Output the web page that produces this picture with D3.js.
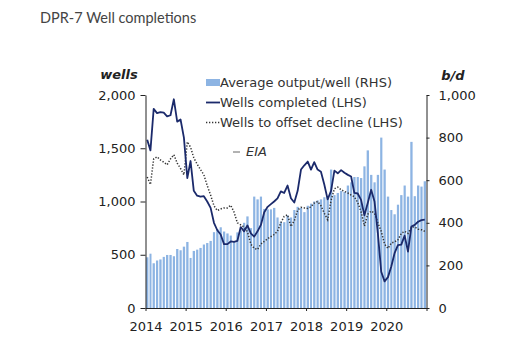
<!DOCTYPE html>
<html>
<head>
<meta charset="utf-8">
<script src="https://cdn.jsdelivr.net/npm/d3@7"></script>
<style>
  body { margin: 0; background: #fff; }
  text { font-family: "DejaVu Sans", sans-serif; fill: #222; }
</style>
</head>
<body>
<div id="chart"></div>
<script>
const width = 512;
const height = 354;

// monthly data, Jan 2014 .. Dec 2020
const startYear = 2014;
const yearTicks = [2014, 2015, 2016, 2017, 2018, 2019, 2020];

// average output per new well, b/d (RHS)
const outputPerWell = [
  238, 255, 210, 223, 228, 240, 249, 249, 243, 277, 271, 288,
  310, 235, 268, 274, 282, 298, 305, 315, 356, 370, 379, 359,
  350, 340, 310, 355, 365, 400, 430, 375, 523, 510, 523, 465,
  463, 463, 470, 425, 405, 403, 435, 425, 460, 475, 470, 450,
  480, 490, 500, 505, 510, 520, 525, 650, 530, 540, 550, 545,
  575, 590, 615, 615, 610, 665, 740, 625, 590, 625, 800, 650,
  523, 460, 440, 485, 530, 575, 523, 780, 525, 575, 570, 595
];

// wells completed (LHS)
const wellsCompleted = [
  1580, 1480, 1870, 1830, 1840, 1835, 1800, 1810, 1960, 1750, 1770, 1600,
  1220, 1380, 1100, 1055, 1045, 1050, 1000, 940, 800, 730, 690, 600,
  600, 625, 620, 630, 760, 720, 775, 700, 670, 720, 780, 900,
  950, 975, 1000, 1030, 1095, 1080, 1150, 1030, 990, 1100, 1300, 1340,
  1375, 1300, 1370, 1300, 1280, 1160, 1020, 1100, 1290, 1265, 1295, 1270,
  1250, 1235, 1080, 1075, 1015, 870, 985, 1110, 1000, 700, 340, 250,
  290, 390, 515, 590, 595, 680, 530, 765, 780, 810, 825, 830
];

// wells needed to offset legacy decline (LHS)
const wellsOffset = [
  1230, 1160, 1400, 1420, 1390, 1370, 1345, 1400, 1440, 1360, 1310, 1250,
  1560, 1510, 1410, 1350, 1300, 1250, 1150, 1060, 960, 915, 930, 940,
  940, 965, 900, 800, 780, 760, 716, 600, 560, 550, 600, 625,
  650, 670, 690, 720, 800, 860, 875, 765, 820, 920, 945, 940,
  935, 950, 985, 1000, 960, 890, 830, 1010, 1120, 1135, 1110, 1095,
  1080, 1060, 1045, 990, 905, 770, 880, 910, 890, 800, 720, 600,
  560, 610, 620, 640, 700, 720, 700, 760, 760, 740, 735, 720
];

const leftTicks = [0, 500, 1000, 1500, 2000];
const rightTicks = [0, 200, 400, 600, 800, 1000];

const months = outputPerWell.map((d, i) => new Date(startYear, i, 1));

const svg = d3.select("#chart").append("svg")
    .attr("width", width)
    .attr("height", height);

const plotLeft = 145.5, plotRight = 426.5, plotTop = 95, plotBottom = 308;

const x = d3.scaleTime()
    .domain([new Date(startYear, 0, 1), new Date(startYear + 7, 0, 1)])
    .range([plotLeft, plotRight]);
const yL = d3.scaleLinear().domain([0, 2000]).range([plotBottom, plotTop]);
const yR = d3.scaleLinear().domain([0, 1000]).range([plotBottom, plotTop]);

// title
svg.append("text")
    .attr("x", 40).attr("y", 23)
    .style("font-family", "Lato, sans-serif")
    .style("font-size", "14.5px")
    .style("fill", "#444")
    .text("DPR-7 Well completions");

// bars
svg.append("g").selectAll("rect")
    .data(outputPerWell)
    .join("rect")
    .attr("x", (d, i) => x(months[i]) + 0.6)
    .attr("width", (d, i) => x(new Date(startYear, i + 1, 1)) - x(months[i]) - 1.1)
    .attr("y", d => yR(d))
    .attr("height", d => yR(0) - yR(d))
    .attr("fill", "#8db4e3");

const mid = i => (x(months[i]) + x(new Date(startYear, i + 1, 1))) / 2;

svg.append("path")
    .datum(wellsOffset)
    .attr("fill", "none")
    .attr("stroke", "#333")
    .attr("stroke-width", 1.5)
    .attr("stroke-dasharray", "1.3,1.7")
    .attr("d", d3.line().x((d, i) => mid(i)).y(d => yL(d)));

svg.append("path")
    .datum(wellsCompleted)
    .attr("fill", "none")
    .attr("stroke", "#1b2a6b")
    .attr("stroke-width", 1.8)
    .attr("stroke-linejoin", "round")
    .attr("d", d3.line().x((d, i) => mid(i)).y(d => yL(d)));

// axes
const axisL = svg.append("g")
    .attr("transform", `translate(${plotLeft},0)`)
    .call(d3.axisLeft(yL).tickValues(leftTicks).tickFormat(d3.format(","))
        .tickSize(5).tickSizeOuter(0).tickPadding(5));

const axisR = svg.append("g")
    .attr("transform", `translate(${plotRight},0)`)
    .call(d3.axisRight(yR).tickValues(rightTicks).tickFormat(d3.format(","))
        .tickSize(3).tickSizeOuter(0).tickPadding(9));

const axisX = svg.append("g")
    .attr("transform", `translate(0,${plotBottom})`)
    .call(d3.axisBottom(x).tickValues(yearTicks.map(y => new Date(y, 0, 1)).concat([new Date(2021, 0, 1)]))
        .tickFormat(d => d.getFullYear() <= 2020 ? d.getFullYear() : "")
        .tickSize(3).tickSizeOuter(0).tickPadding(11));

[axisL, axisR, axisX].forEach(g => {
    g.selectAll("text").style("font-size", "13px").style("font-family", "DejaVu Sans, sans-serif").attr("fill", "#222");
    g.selectAll("line, path").attr("stroke", "#222");
});

// axis titles
svg.append("text")
    .attr("x", 119).attr("y", 79)
    .attr("text-anchor", "middle")
    .style("font-size", "13px").style("font-weight", "bold").style("font-style", "italic")
    .text("wells");
svg.append("text")
    .attr("x", 453).attr("y", 80)
    .attr("text-anchor", "middle")
    .style("font-size", "13px").style("font-weight", "bold").style("font-style", "italic")
    .text("b/d");

// legend
const legend = svg.append("g").style("font-size", "13px");
legend.append("rect").attr("x", 206).attr("y", 79).attr("width", 14).attr("height", 7).attr("fill", "#8db4e3");
legend.append("text").attr("x", 220).attr("y", 87).style("fill", "#333").text("Average output/well (RHS)");
legend.append("line").attr("x1", 206).attr("x2", 220).attr("y1", 102.5).attr("y2", 102.5)
    .attr("stroke", "#1b2a6b").attr("stroke-width", 1.8);
legend.append("text").attr("x", 220).attr("y", 107).style("fill", "#333").text("Wells completed (LHS)");
legend.append("line").attr("x1", 206).attr("x2", 220).attr("y1", 122.5).attr("y2", 122.5)
    .attr("stroke", "#333").attr("stroke-width", 1.3).attr("stroke-dasharray", "1.3,1.7");
legend.append("text").attr("x", 220).attr("y", 127).style("fill", "#333").text("Wells to offset decline (LHS)");

// source note
svg.append("line").attr("x1", 233).attr("x2", 240).attr("y1", 152).attr("y2", 152)
    .attr("stroke", "#666").attr("stroke-width", 1);
svg.append("text").attr("x", 246).attr("y", 156)
    .style("font-size", "13px").style("font-style", "italic").style("fill", "#333")
    .text("EIA");
</script>
</body>
</html>
